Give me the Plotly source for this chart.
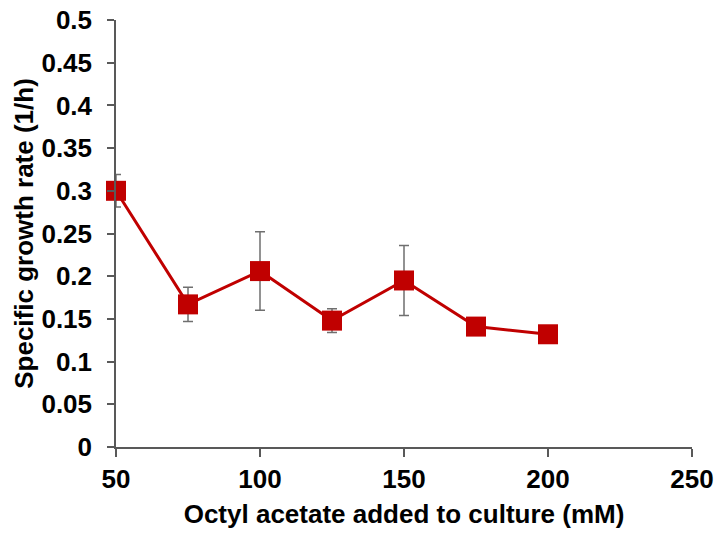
import plotly.graph_objects as go

# Octyl acetate concentration (mM) vs. specific growth rate (1/h)
octyl_mM = [50, 75, 100, 125, 150, 175, 200]
growth_rate = [0.300, 0.167, 0.206, 0.148, 0.195, 0.141, 0.132]
growth_err = [0.019, 0.020, 0.046, 0.014, 0.041, 0.003, 0.003]

x_ticks = [50, 100, 150, 200, 250]
y_ticks = [0, 0.05, 0.1, 0.15, 0.2, 0.25, 0.3, 0.35, 0.4, 0.45, 0.5]

axis_color = "#595959"
series_color = "#C00000"
font_family = "Liberation Sans, Arial, sans-serif"

fig = go.Figure()
fig.add_trace(go.Scatter(
    x=octyl_mM,
    y=growth_rate,
    mode="lines+markers",
    line=dict(color=series_color, width=3),
    marker=dict(symbol="square", size=20, color=series_color),
    error_y=dict(type="data", array=growth_err, visible=True,
                 color="#6f6f6f", thickness=1.5, width=5),
    cliponaxis=False,
    showlegend=False,
))

fig.update_layout(
    width=720,
    height=533,
    margin=dict(l=116, r=28, t=20, b=86),
    paper_bgcolor="white",
    plot_bgcolor="white",
    font=dict(family=font_family, color="black"),
    xaxis=dict(
        range=[50, 250],
        tickvals=x_ticks,
        ticktext=[str(v) for v in x_ticks],
        automargin=False,
        showgrid=False,
        zeroline=False,
        showline=True,
        linecolor=axis_color,
        linewidth=1.5,
        ticks="outside",
        ticklen=8,
        tickwidth=1.5,
        tickcolor=axis_color,
        tickfont=dict(size=26, family=font_family, weight="bold"),
        title=dict(text="<b>Octyl acetate added to culture (mM)</b>",
                   font=dict(size=26, family=font_family), standoff=12),
    ),
    yaxis=dict(
        range=[0, 0.5],
        tickvals=y_ticks,
        ticktext=[f"{v:g}" for v in y_ticks],
        automargin=False,
        showgrid=False,
        zeroline=False,
        showline=True,
        linecolor=axis_color,
        linewidth=1.5,
        ticks="outside",
        ticklen=7,
        tickwidth=1.5,
        tickcolor=axis_color,
        ticklabelstandoff=10,
        tickfont=dict(size=26, family=font_family, weight="bold"),
        title=dict(text="<b>Specific growth rate (1/h)</b>",
                   font=dict(size=26, family=font_family), standoff=0),
    ),
)

fig.write_html("out.html")
